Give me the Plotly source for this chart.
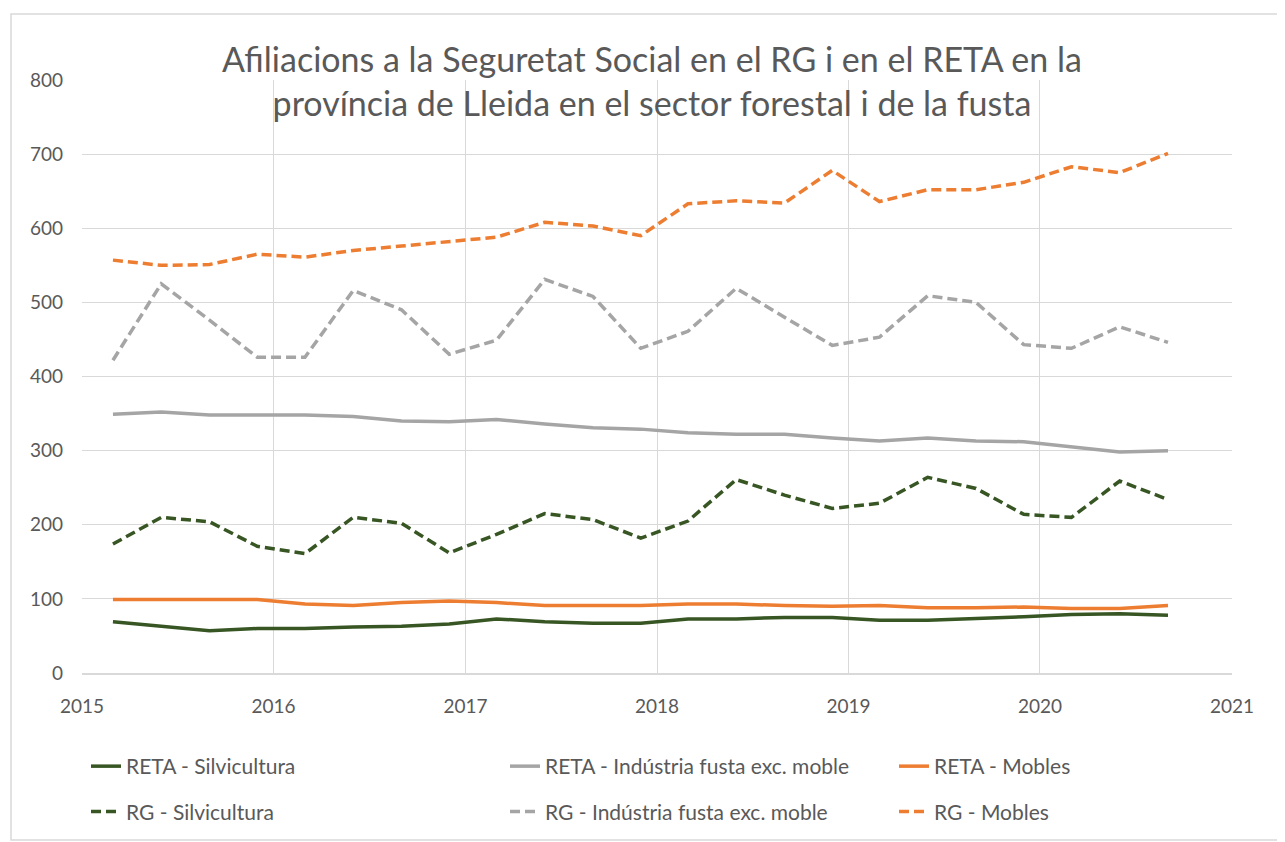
import plotly.graph_objects as go

dates = [
    "2015-03-01", "2015-06-01", "2015-09-01", "2015-12-01",
    "2016-03-01", "2016-06-01", "2016-09-01", "2016-12-01",
    "2017-03-01", "2017-06-01", "2017-09-01", "2017-12-01",
    "2018-03-01", "2018-06-01", "2018-09-01", "2018-12-01",
    "2019-03-01", "2019-06-01", "2019-09-01", "2019-12-01",
    "2020-03-01", "2020-06-01", "2020-09-01",
]

reta_silvicultura = [69, 63, 57, 60, 60, 62, 63, 66, 73, 69, 67, 67,
                     73, 73, 75, 75, 71, 71, 73, 76, 79, 80, 78]
reta_industria = [349, 352, 348, 348, 348, 346, 340, 339, 342, 336, 331, 329,
                  324, 322, 322, 317, 313, 317, 313, 312, 305, 298, 300]
reta_mobles = [99, 99, 99, 99, 93, 91, 95, 97, 95, 91, 91, 91,
               93, 93, 91, 90, 91, 88, 88, 89, 87, 87, 91]
rg_silvicultura = [174, 210, 204, 171, 161, 210, 202, 162, 187, 215, 207, 182,
                   205, 261, 240, 222, 229, 264, 249, 214, 210, 259, 234]
rg_industria = [422, 525, 476, 426, 426, 516, 490, 430, 449, 531, 508, 438,
                461, 519, 480, 442, 453, 509, 500, 443, 438, 467, 446]
rg_mobles = [557, 550, 551, 565, 561, 570, 576, 582, 588, 608, 603, 590,
             633, 637, 634, 678, 636, 652, 652, 662, 683, 675, 701]

year_ticks = ["2015-01-01", "2016-01-01", "2017-01-01", "2018-01-01",
              "2019-01-01", "2020-01-01", "2021-01-01"]
year_labels = ["2015", "2016", "2017", "2018", "2019", "2020", "2021"]

GREEN = "#375623"
GREY = "#A5A5A5"
ORANGE = "#ED7D31"
TEXT = "#595959"
FONT = "Lato"
DASH = "10px,5px"

series = [
    ("RETA - Silvicultura", reta_silvicultura, GREEN, "solid", "legend"),
    ("RG - Silvicultura", rg_silvicultura, GREEN, DASH, "legend"),
    ("RETA - Indústria fusta exc. moble", reta_industria, GREY, "solid", "legend2"),
    ("RG - Indústria fusta exc. moble", rg_industria, GREY, DASH, "legend2"),
    ("RETA - Mobles", reta_mobles, ORANGE, "solid", "legend3"),
    ("RG - Mobles", rg_mobles, ORANGE, DASH, "legend3"),
]

fig = go.Figure()
for name, vals, color, dash, leg in series:
    fig.add_trace(go.Scatter(
        x=dates, y=vals, name=name, mode="lines",
        line=dict(color=color, width=3.5, dash=dash),
        legend=leg, legendgroup=name,
    ))

W, H = 1285, 842
OFF = 8  # page body margin
# plot area in screen pixels
L, R, T, B = 82, 1232, 80, 673


def px_x(p):
    return (p - L) / (R - L)


def px_y(p):
    return (B - p) / (B - T)


leg_common = dict(
    orientation="v", xanchor="left", yanchor="top",
    font=dict(family=FONT, size=21, color=TEXT),
    bgcolor="rgba(0,0,0,0)", tracegroupgap=15,
)

fig.update_layout(
    width=W, height=H,
    margin=dict(l=L - OFF, r=W - (R - OFF), t=T - OFF, b=H - (B - OFF)),
    paper_bgcolor="white", plot_bgcolor="white",
    font=dict(family=FONT, color=TEXT),
    title=dict(
        text="Afiliacions a la Seguretat Social en el RG i en el RETA en la<br>província de Lleida en el sector forestal i de la fusta",
        x=px_x(652), xanchor="center", xref="paper",
        y=1 - 64 / H, yanchor="top", yref="container",
        font=dict(family=FONT, size=34, color=TEXT),
    ),
    xaxis=dict(
        type="date", range=["2015-01-01", "2021-01-01"],
        tickvals=year_ticks, ticktext=year_labels,
        showgrid=True, gridcolor="#D9D9D9", gridwidth=1,
        showline=True, linecolor="#D9D9D9", linewidth=1.5,
        ticks="", tickfont=dict(family=FONT, size=19, color=TEXT),
        zeroline=False, ticklabelstandoff=15,
    ),
    yaxis=dict(
        range=[0, 800], dtick=100,
        showgrid=True, gridcolor="#D9D9D9", gridwidth=1,
        showline=False, zeroline=False, ticks="",
        tickfont=dict(family=FONT, size=19, color=TEXT),
        ticklabelstandoff=18,
    ),
    legend=dict(x=px_x(86), y=px_y(746), **leg_common),
    legend2=dict(x=px_x(505), y=px_y(746), **leg_common),
    legend3=dict(x=px_x(894), y=px_y(746), **leg_common),
    shapes=[dict(
        type="rect", xref="paper", yref="paper",
        x0=px_x(11), x1=px_x(1283), y0=px_y(840), y1=px_y(14),
        line=dict(color="#D9D9D9", width=1.5), fillcolor="rgba(0,0,0,0)",
        layer="below",
    )],
)

fig.write_html("out.html")
